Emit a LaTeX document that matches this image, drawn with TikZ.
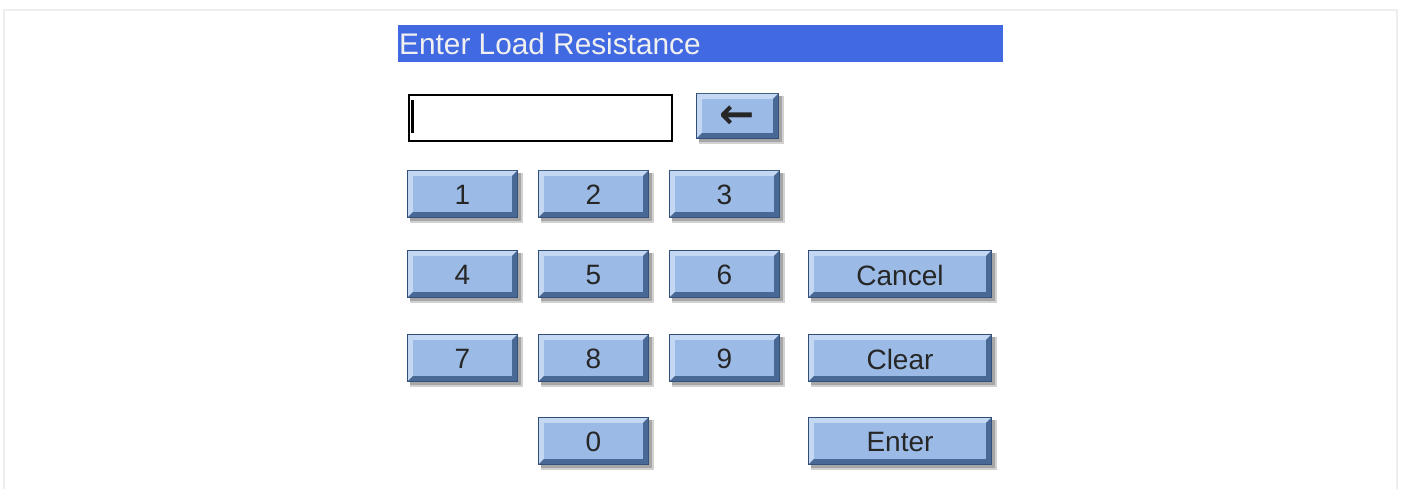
\documentclass[tikz,border=0pt]{standalone}
\usepackage{fontspec}
\setmainfont{Liberation Sans}
\newfontfamily\arrowfont{DejaVu Sans}
\definecolor{btnface}{RGB}{155,187,230}
\definecolor{btnlight}{RGB}{196,215,243}
\definecolor{btndark}{RGB}{72,104,150}
\definecolor{btnedge}{RGB}{50,78,118}
\definecolor{titlebar}{RGB}{65,105,225}
\definecolor{titletext}{RGB}{240,240,240}
\definecolor{framegray}{RGB}{238,238,238}
\newcommand\kbtn[6]{%
  \fill[black!18] ({#2+3},{#3+3}) rectangle ({#4+5},{#5+5});
  \fill[black!35] ({#2+3},{#3+3}) rectangle ({#4+3},{#5+3});
  \fill[btnedge] (#2,#3) rectangle (#4,#5);
  \fill[btnlight] ({#2+1},{#3+1}) -- ({#4-1},{#3+1}) -- ({#4-6},{#3+6}) -- ({#2+6},{#3+6}) -- ({#2+6},{#5-6}) -- ({#2+1},{#5-1}) -- cycle;
  \fill[btndark] ({#4-1},{#3+1}) -- ({#4-1},{#5-1}) -- ({#2+1},{#5-1}) -- ({#2+6},{#5-6}) -- ({#4-6},{#5-6}) -- ({#4-6},{#3+6}) -- cycle;
  \fill[btnface] ({#2+6},{#3+6}) rectangle ({#4-6},{#5-6});
  \node[btntext] (#1) at ({(#2+#4)/2},{(#3+#5)/2+1}) {#6};
}
\tikzset{
  btntext/.style={inner sep=0pt, text=black!85, font=\fontsize{28}{30}\selectfont},
}
\begin{document}
\begin{tikzpicture}[x=1pt,y=-1pt]
\useasboundingbox (0,0) rectangle (1404,489);
\fill[white] (0,0) rectangle (1404,489);
\draw[framegray, line width=2] (4,489) -- (4,10) -- (1397,10) -- (1397,489);
% title bar
\fill[titlebar] (398,25) rectangle (1003,62);
\node[anchor=west, inner sep=0pt, text=titletext, font=\fontsize{29.8}{32}\selectfont] (title) at (399,43.5) {Enter Load Resistance};
% text field
\node[draw=black, line width=1.6, fill=white, minimum width=263, minimum height=46, inner sep=0, anchor=north west] (field) at (408,94) {};
\fill[black] (411,100) rectangle (414,133);
% backspace
\kbtn{back}{696}{93}{779}{139}{\arrowfont\bfseries\fontsize{42}{44}\selectfont ←}
% digits
\kbtn{b1}{407}{170}{518}{218}{1}
\kbtn{b2}{538}{170}{649}{218}{2}
\kbtn{b3}{669}{170}{780}{218}{3}
\kbtn{b4}{407}{250}{518}{298}{4}
\kbtn{b5}{538}{250}{649}{298}{5}
\kbtn{b6}{669}{250}{780}{298}{6}
\kbtn{b7}{407}{334}{518}{382}{7}
\kbtn{b8}{538}{334}{649}{382}{8}
\kbtn{b9}{669}{334}{780}{382}{9}
\kbtn{b0}{538}{417}{649}{465}{0}
\kbtn{cancel}{808}{250}{992}{298}{Cancel}
\kbtn{clear}{808}{334}{992}{382}{Clear}
\kbtn{enter}{808}{417}{992}{465}{Enter}
\end{tikzpicture}
\end{document}
